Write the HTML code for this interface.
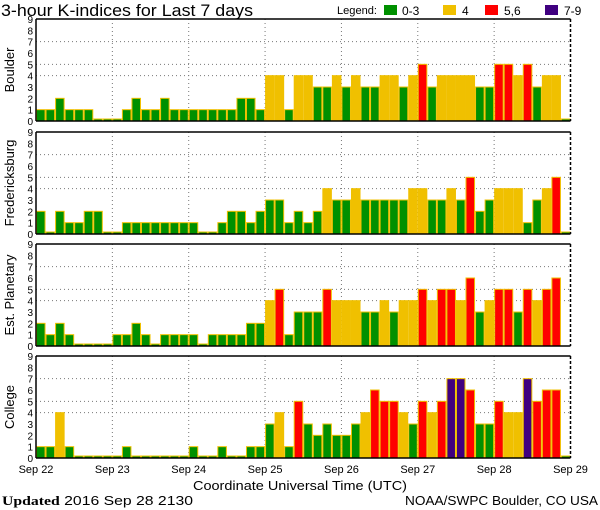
<!DOCTYPE html>
<html><head><meta charset="utf-8"><style>
html,body{margin:0;padding:0;background:#fff;width:600px;height:510px;overflow:hidden}
svg text{font-family:"Liberation Sans",sans-serif;fill:#000}
</style></head><body>
<svg id="s" width="600" height="510" xmlns="http://www.w3.org/2000/svg"></svg>
<script>
var data=[
[1,1,2,1,1,1,0,0, 0,1,2,1,1,2,1,1, 1,1,1,1,1,2,2,1, 4,4,1,4,4,3,3,4, 3,4,3,3,4,4,3,4, 5,3,4,4,4,4,3,3, 5,5,4,5,3,4,4,0],
[2,0,2,1,1,2,2,0, 0,1,1,1,1,1,1,1, 1,0,0,1,2,2,1,2, 3,3,1,2,1,2,4,3, 3,4,3,3,3,3,3,4, 4,3,3,4,3,5,2,3, 4,4,4,1,3,4,5,0],
[2,1,2,1,0,0,0,0, 1,1,2,1,0,1,1,1, 1,0,1,1,1,1,2,2, 4,5,1,3,3,3,5,4, 4,4,3,3,4,3,4,4, 5,4,5,5,4,6,3,4, 5,5,3,5,4,5,6,null],
[1,1,4,1,0,0,0,0, 0,1,0,0,0,0,0,0, 1,0,0,1,0,0,1,1, 3,4,1,5,3,2,3,2, 2,3,4,6,5,5,4,3, 5,4,5,7,7,6,3,3, 5,4,4,7,5,6,6,0]];
var names=["Boulder","Fredericksburg","Est. Planetary","College"];
var tops=[19,132,244,356];
var L=36,R=570.5,H=102,bw=(R-L)/56,u=H/9;
function col(k){return k<=3?"#009000":k==4?"#f0c000":k<=6?"#ff0000":"#400080";}
var o='';
o+='<text x="1" y="16" font-size="17" textLength="252" lengthAdjust="spacingAndGlyphs">3-hour K-indices for Last 7 days</text>';
o+='<text x="337" y="14" font-size="11" textLength="40" lengthAdjust="spacingAndGlyphs">Legend:</text>';
var lg=[[384,"#009000","0-3",402],[443,"#f0c000","4",462],[485,"#ff0000","5,6",504],[545,"#400080","7-9",564]];
lg.forEach(function(a){o+='<rect x="'+a[0]+'" y="5" width="13" height="10" fill="'+a[1]+'"/><text x="'+a[3]+'" y="15" font-size="12">'+a[2]+'</text>';});
for(var p=0;p<4;p++){
 var T=tops[p],B=T+H;
 [4,5,7].forEach(function(k){var y=B-k*u;o+='<line x1="'+L+'" x2="'+R+'" y1="'+y+'" y2="'+y+'" stroke="#777" stroke-dasharray="1,3"/>';});
 for(var d=1;d<7;d++){var x=L+d*8*bw;o+='<line x1="'+x+'" x2="'+x+'" y1="'+T+'" y2="'+B+'" stroke="#777" stroke-dasharray="1,3"/>';}
 for(var i=0;i<56;i++){var k=data[p][i];if(k===null)continue;
  var h=Math.max(k*u,2),x=L+i*bw;
  o+='<rect x="'+(x+0.5)+'" y="'+(B-h)+'" width="'+(bw-1)+'" height="'+h+'" fill="'+col(k)+'" stroke="#f0c000" stroke-width="1"/>';}
 o+='<line x1="'+L+'" x2="'+R+'" y1="'+T+'" y2="'+T+'" stroke="#000" stroke-width="1.5"/>';
 o+='<line x1="'+L+'" x2="'+R+'" y1="'+B+'" y2="'+B+'" stroke="#000" stroke-width="1.5"/>';
 o+='<line x1="'+L+'" x2="'+L+'" y1="'+T+'" y2="'+B+'" stroke="#000" stroke-width="1.5"/>';
 o+='<line x1="'+R+'" x2="'+R+'" y1="'+T+'" y2="'+B+'" stroke="#000" stroke-width="1.5" stroke-dasharray="3,2"/>';
 for(var k=0;k<=9;k++){o+='<text x="33" y="'+(B-k*u+4)+'" font-size="10" text-anchor="end">'+k+'</text>';}
 var cy=T+H/2;
 o+='<text transform="translate(14,'+cy+') rotate(-90)" font-size="13" text-anchor="middle">'+names[p]+'</text>';
}
var days=["Sep 22","Sep 23","Sep 24","Sep 25","Sep 26","Sep 27","Sep 28","Sep 29"];
days.forEach(function(s,d){o+='<text x="'+(L+d*8*bw)+'" y="473" font-size="11" text-anchor="middle">'+s+'</text>';});
o+='<text x="193" y="490" font-size="13" textLength="214" lengthAdjust="spacingAndGlyphs">Coordinate Universal Time (UTC)</text>';
o+='<text x="2" y="505" font-size="13" textLength="191" lengthAdjust="spacingAndGlyphs"><tspan font-family="Liberation Serif" font-weight="bold">Updated</tspan> 2016 Sep 28 2130</text>';
o+='<text x="405" y="505" font-size="13" textLength="193" lengthAdjust="spacingAndGlyphs">NOAA/SWPC Boulder, CO USA</text>';
document.getElementById('s').innerHTML=o;
</script>
</body></html>
